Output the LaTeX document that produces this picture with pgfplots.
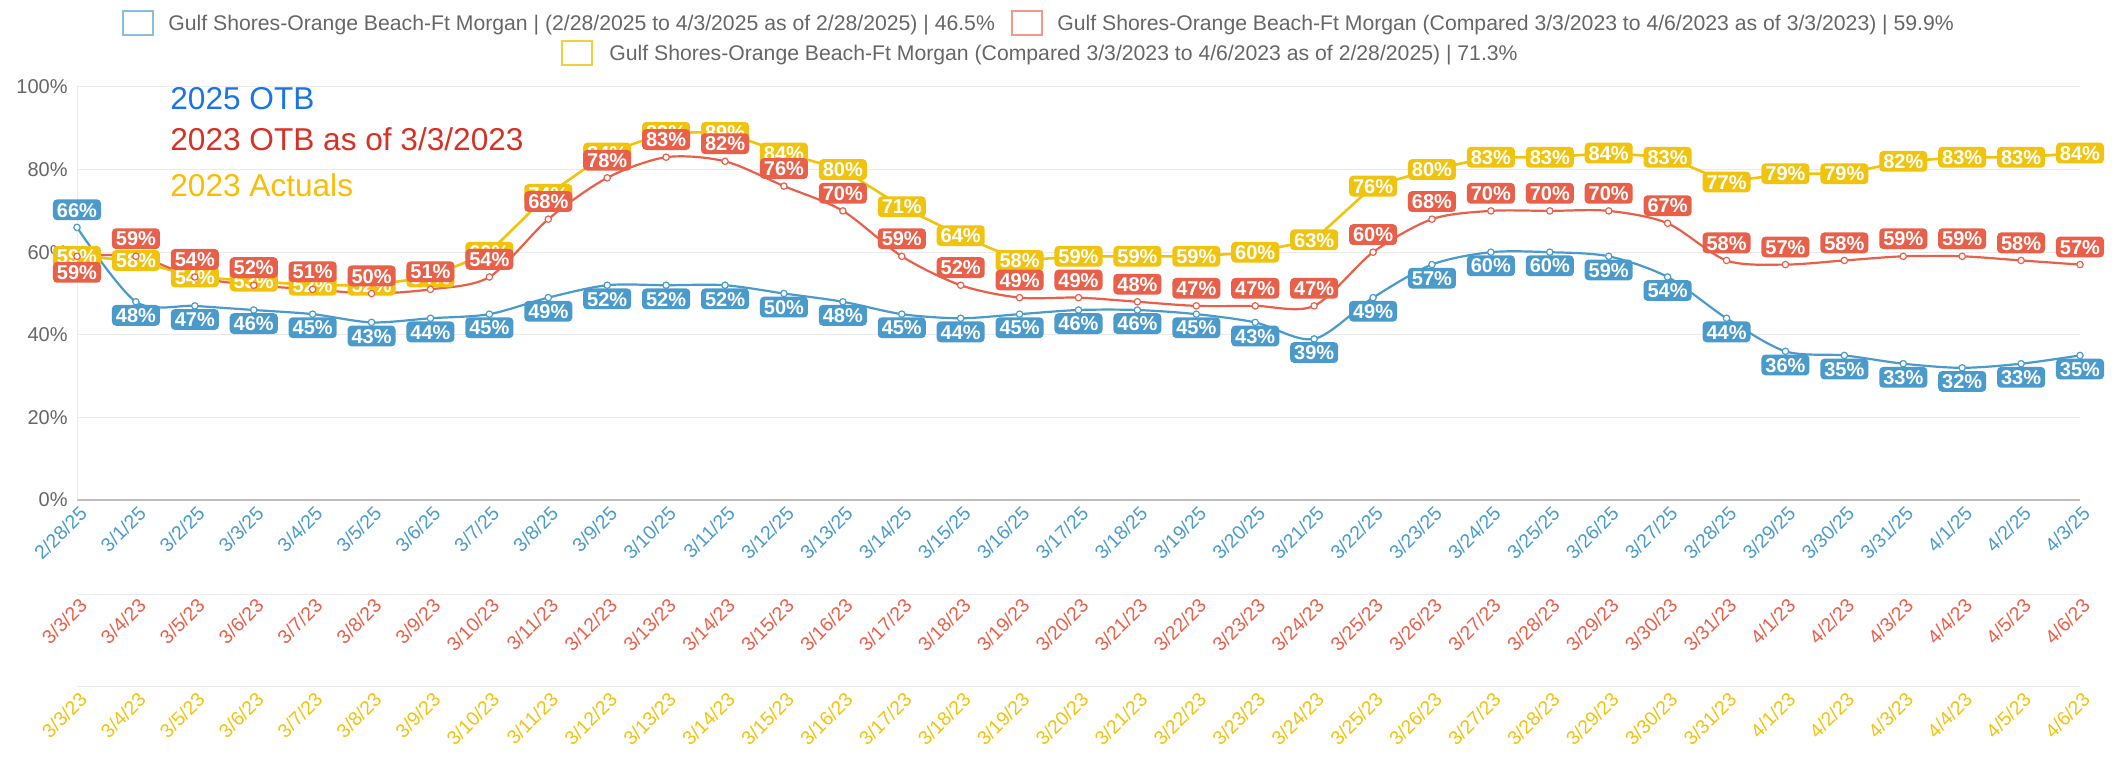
\documentclass[border=0pt]{standalone}
\usepackage{fontspec}
\setmainfont{Liberation Sans}
\usepackage{pgfplots}
\pgfplotsset{compat=1.18}
\usepackage{pgfplotstable}

\definecolor{cblue}{HTML}{4A9BCB}
\definecolor{cred}{HTML}{E9604A}
\definecolor{cyel}{HTML}{F0C30E}
\definecolor{tblue}{HTML}{1A73E8}
\definecolor{tred}{HTML}{D93025}
\definecolor{tyel}{HTML}{FBBC04}
\definecolor{gridc}{HTML}{EBEBEB}
\definecolor{axc}{HTML}{BDBDBD}
\definecolor{txt}{HTML}{666666}

\pgfplotstableread{
x y dy
0 66 8.8
1 48 -6.8
2 47 -6.8
3 46 -6.8
4 45 -6.8
5 43 -6.8
6 44 -6.8
7 45 -6.8
8 49 -6.8
9 52 -6.8
10 52 -6.8
11 52 -6.8
12 50 -6.8
13 48 -6.8
14 45 -6.8
15 44 -6.8
16 45 -6.8
17 46 -6.8
18 46 -6.8
19 45 -6.8
20 43 -6.8
21 39 -6.8
22 49 -6.8
23 57 -6.8
24 60 -6.8
25 60 -6.8
26 59 -6.8
27 54 -6.8
28 44 -6.8
29 36 -6.8
30 35 -6.8
31 33 -6.8
32 32 -6.8
33 33 -6.8
34 35 -6.8
}\tblblue

\pgfplotstableread{
x y dy
0 59 -8
1 59 8.8
2 54 8.8
3 52 8.8
4 51 8.8
5 50 8.8
6 51 8.8
7 54 8.8
8 68 8.8
9 78 8.8
10 83 8.8
11 82 8.8
12 76 8.8
13 70 8.8
14 59 8.8
15 52 8.8
16 49 8.8
17 49 8.8
18 48 8.8
19 47 8.8
20 47 8.8
21 47 8.8
22 60 8.8
23 68 8.8
24 70 8.8
25 70 8.8
26 70 8.8
27 67 8.8
28 58 8.8
29 57 8.8
30 58 8.8
31 59 8.8
32 59 8.8
33 58 8.8
34 57 8.8
}\tblred

\pgfplotstableread{
x y dy
0 59 0
1 58 0
2 54 0
3 53 0
4 52 0
5 52 0
6 54 0
7 60 0
8 74 0
9 84 0
10 89 0
11 89 0
12 84 0
13 80 0
14 71 0
15 64 0
16 58 0
17 59 0
18 59 0
19 59 0
20 60 0
21 63 0
22 76 0
23 80 0
24 83 0
25 83 0
26 84 0
27 83 0
28 77 0
29 79 0
30 79 0
31 82 0
32 83 0
33 83 0
34 84 0
}\tblyel

\pgfplotsset{
  baseax/.style={
    at={(0,0)}, anchor=south west,
    scale only axis, width=1001.5pt, height=206.5pt,
    xmin=0, xmax=34, ymin=0, ymax=100,
    xtick={0,...,34},
    clip=false,
  },
  xrow/.style 2 args={
    xticklabel style={font=\fontsize{9.7}{11}\selectfont, text=#1, inner sep=0pt,
      xshift=3.3pt, yshift=#2, rotate=45, anchor=east},
  },
  lab/.style={
    nodes near coords={\pgfplotspointmeta\%},
    point meta=explicit symbolic,
    visualization depends on={\thisrow{dy} \as \labeldy},
    every node near coord/.append style={fill=#1, text=white,
      font=\bfseries\fontsize{10}{12}\selectfont, rounded corners=2pt,
      inner xsep=2pt, inner ysep=1.6pt, text height=7.2pt, text depth=0pt,
      anchor=center, yshift=\labeldy pt},
  },
}

\begin{document}
\begin{tikzpicture}
% red tick row
\begin{axis}[baseax, xrow={cred}{-51pt},
  xticklabels={3/3/23,3/4/23,3/5/23,3/6/23,3/7/23,3/8/23,3/9/23,3/10/23,3/11/23,3/12/23,3/13/23,3/14/23,3/15/23,3/16/23,3/17/23,3/18/23,3/19/23,3/20/23,3/21/23,3/22/23,3/23/23,3/24/23,3/25/23,3/26/23,3/27/23,3/28/23,3/29/23,3/30/23,3/31/23,4/1/23,4/2/23,4/3/23,4/4/23,4/5/23,4/6/23},
  ytick=\empty, axis line style={draw=none}, tick style={draw=none}]
\end{axis}
% yellow tick row
\begin{axis}[baseax, xrow={cyel}{-98pt},
  xticklabels={3/3/23,3/4/23,3/5/23,3/6/23,3/7/23,3/8/23,3/9/23,3/10/23,3/11/23,3/12/23,3/13/23,3/14/23,3/15/23,3/16/23,3/17/23,3/18/23,3/19/23,3/20/23,3/21/23,3/22/23,3/23/23,3/24/23,3/25/23,3/26/23,3/27/23,3/28/23,3/29/23,3/30/23,3/31/23,4/1/23,4/2/23,4/3/23,4/4/23,4/5/23,4/6/23},
  ytick=\empty, axis line style={draw=none}, tick style={draw=none}]
\end{axis}
% main axis
\begin{axis}[baseax, xrow={cblue}{-5pt},
  xticklabels={2/28/25,3/1/25,3/2/25,3/3/25,3/4/25,3/5/25,3/6/25,3/7/25,3/8/25,3/9/25,3/10/25,3/11/25,3/12/25,3/13/25,3/14/25,3/15/25,3/16/25,3/17/25,3/18/25,3/19/25,3/20/25,3/21/25,3/22/25,3/23/25,3/24/25,3/25/25,3/26/25,3/27/25,3/28/25,3/29/25,3/30/25,3/31/25,4/1/25,4/2/25,4/3/25},
  ytick={0,20,40,60,80,100},
  yticklabels={0\%,20\%,40\%,60\%,80\%,100\%},
  yticklabel style={font=\fontsize{10}{12}\selectfont, text=txt, inner sep=0pt, xshift=-4.5pt},
  ymajorgrids, grid style={gridc, line width=0.5pt},
  axis lines*=left,
  x axis line style={axc, line width=0.8pt},
  y axis line style={gridc, line width=0.5pt},
  tick style={draw=none},
]
\addplot[cyel, line width=1.3pt, sharp plot, mark=none, lab=cyel]
  table[x=x, y=y, meta=y] {\tblyel};
\addplot[cred, line width=1.1pt, smooth, mark=*, mark size=1.6pt,
  mark options={fill=white, draw=cred, line width=0.6pt}, lab=cred]
  table[x=x, y=y, meta=y] {\tblred};
\addplot[cblue, line width=1.1pt, smooth, mark=*, mark size=1.6pt,
  mark options={fill=white, draw=cblue, line width=0.6pt}, lab=cblue]
  table[x=x, y=y, meta=y] {\tblblue};
\end{axis}

% separator lines of the extra label rows
\draw[gridc, line width=0.5pt] (0,-47.5pt) -- (1001.5pt,-47.5pt);
\draw[gridc, line width=0.5pt] (0,-93.5pt) -- (1001.5pt,-93.5pt);

% annotation texts
\node[anchor=base west, inner sep=0pt, text=tblue, font=\fontsize{15.8}{18}\selectfont] at (46.5pt,195pt) {2025 OTB};
\node[anchor=base west, inner sep=0pt, text=tred, font=\fontsize{15.8}{18}\selectfont] at (46.5pt,174.5pt) {2023 OTB as of 3/3/2023};
\node[anchor=base west, inner sep=0pt, text=tyel, font=\fontsize{15.8}{18}\selectfont] at (46.5pt,151.5pt) {2023 Actuals};

% legend
\draw[cblue!65, line width=0.9pt, fill=white] (23pt,232.5pt) rectangle (38pt,244.5pt);
\node[anchor=base west, inner sep=0pt, text=txt, font=\fontsize{10.6}{12}\selectfont] at (45.5pt,234.7pt)
  {Gulf Shores-Orange Beach-Ft Morgan | (2/28/2025 to 4/3/2025 as of 2/28/2025) | 46.5\%};
\draw[cred!65, line width=0.9pt, fill=white] (467.5pt,232.5pt) rectangle (482.5pt,244.5pt);
\node[anchor=base west, inner sep=0pt, text=txt, font=\fontsize{10.6}{12}\selectfont] at (490pt,234.7pt)
  {Gulf Shores-Orange Beach-Ft Morgan (Compared 3/3/2023 to 4/6/2023 as of 3/3/2023) | 59.9\%};
\draw[cyel!80, line width=0.9pt, fill=white] (242.5pt,217.5pt) rectangle (257.5pt,229.5pt);
\node[anchor=base west, inner sep=0pt, text=txt, font=\fontsize{10.6}{12}\selectfont] at (266pt,219.7pt)
  {Gulf Shores-Orange Beach-Ft Morgan (Compared 3/3/2023 to 4/6/2023 as of 2/28/2025) | 71.3\%};

\pgfresetboundingbox
\path[use as bounding box] (-38.5pt,-131.5pt) rectangle (1017.5pt,250pt);
\end{tikzpicture}
\end{document}
